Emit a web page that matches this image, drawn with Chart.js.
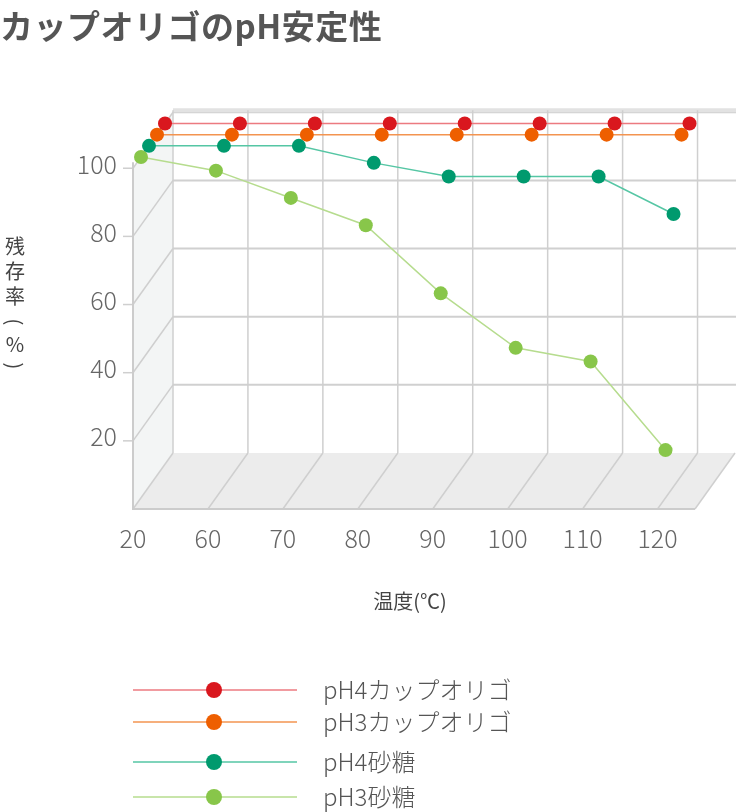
<!DOCTYPE html>
<html><head><meta charset="utf-8">
<script src="https://cdn.jsdelivr.net/npm/chart.js@4/dist/chart.umd.min.js"></script>
<style>
html,body{margin:0;padding:0;background:#fff;width:736px;height:812px;overflow:hidden;font-family:"Noto Sans CJK JP",sans-serif}
#t{position:absolute;left:0;top:1px;font-size:33px;font-weight:bold;color:#555;letter-spacing:0.5px}
#w{position:absolute;left:0;top:0;width:736px;height:812px}
</style></head><body>
<div id="w"><canvas id="c" width="736" height="812"></canvas></div>
<div id="t">カップオリゴのpH安定性</div>
<script>
const categories = ["20","60","70","80","90","100","110","120"];
const yTicks = [20,40,60,80,100];
const seriesNames = ["pH4カップオリゴ","pH3カップオリゴ","pH4砂糖","pH3砂糖"];
const pH4Oligo = [100,100,100,100,100,100,100,100];
const pH3Oligo = [100,100,100,100,100,100,100,100];
const pH4Sugar = [100,100,100,95,91,91,91,80];
const pH3Sugar = [100,96,88,80,60,44,40,14];

const dotColors = ["#d9171e","#ee5f00","#009a6e","#88c64a"];
const lineColors = ["#ec7a80","#f39450","#55c6a4","#b6dc8e"];
const depths = [4,3,2,1];
const DX = 40, DY = -56, NDEP = 5;
const F = '"Noto Sans CJK JP", sans-serif';

function ds(i, vals){
  return {label:seriesNames[i], data:vals.map((v,k)=>({x:k,y:v})), borderColor:lineColors[i],
    backgroundColor:dotColors[i], pointBackgroundColor:dotColors[i], pointBorderWidth:0,
    pointRadius:7, borderWidth:1.5, clip:false, depth:depths[i]};
}

const depthPlugin = {id:'depth',
  afterDatasetsUpdate(chart){
    chart.data.datasets.forEach((d,i)=>{
      const m = chart.getDatasetMeta(i);
      m.data.forEach(p=>{p.x += d.depth*DX/NDEP; p.y += d.depth*DY/NDEP;});
    });
  }};

const framePlugin = {id:'frame',
  beforeDatasetsDraw(chart){
    const c = chart.ctx, xs = chart.scales.x, ys = chart.scales.y;
    const x0 = xs.getPixelForValue(0), x1 = xs.getPixelForValue(7.5);
    const yb = ys.getPixelForValue(0), yt = ys.getPixelForValue(100);
    c.save();
    c.fillStyle = "#f3f5f5";
    c.beginPath(); c.moveTo(x0,yt); c.lineTo(x0+DX,yt+DY); c.lineTo(x0+DX,yb+DY); c.lineTo(x0,yb); c.closePath(); c.fill();
    c.fillStyle = "#ececec";
    c.beginPath(); c.moveTo(x0,yb); c.lineTo(x1,yb); c.lineTo(x1+DX,yb+DY); c.lineTo(x0+DX,yb+DY); c.closePath(); c.fill();
    c.strokeStyle = "#d0d0d0"; c.lineWidth = 2;
    yTicks.forEach(t=>{
      const y = ys.getPixelForValue(t)+DY;
      c.beginPath(); c.moveTo(x0+DX,y); c.lineTo(736,y); c.stroke();
    });
    c.strokeStyle = "#e2e2e2"; c.lineWidth = 4;
    c.beginPath(); c.moveTo(x0+DX,yt+DY-2); c.lineTo(736,yt+DY-2); c.stroke();
    c.lineWidth = 1.5; c.strokeStyle = "#cfcfcf";
    for(let k=0;k<categories.length;k++){
      const x = xs.getPixelForValue(k);
      c.beginPath(); c.moveTo(x+DX,yt+DY-2); c.lineTo(x+DX,yb+DY); c.stroke();
      c.beginPath(); c.moveTo(x,yb); c.lineTo(x+DX,yb+DY); c.stroke();
    }
    c.beginPath(); c.moveTo(x1,yb); c.lineTo(x1+DX,yb+DY); c.stroke();
    yTicks.forEach(t=>{
      const y = ys.getPixelForValue(t);
      c.beginPath(); c.moveTo(x0,y); c.lineTo(x0+DX,y+DY); c.stroke();
      c.beginPath(); c.moveTo(x0-10,y); c.lineTo(x0,y); c.stroke();
    });
    c.strokeStyle = "#cccccc"; c.lineWidth = 2;
    c.beginPath(); c.moveTo(x0,yt-6); c.lineTo(x0,yb); c.lineTo(x1,yb); c.stroke();
    c.fillStyle = "#666"; c.font = "300 25px "+F;
    c.textAlign = "right"; c.textBaseline = "middle";
    yTicks.forEach(t=>c.fillText(String(t), x0-16, ys.getPixelForValue(t)-4));
    c.textAlign = "center";
    categories.forEach((s,k)=>c.fillText(s, xs.getPixelForValue(k), 538));
    c.fillStyle = "#444"; c.font = "20px "+F;
    c.fillText("温度(℃)", 410, 601);
    ["残","存","率"].forEach((ch,k)=>c.fillText(ch, 15, 246+k*25));
    ["(","%",")"].forEach((ch,k)=>{
      c.save(); c.translate(15, 322+k*22);
      if(ch!=="%") c.rotate(Math.PI/2);
      c.fillText(ch,0,0); c.restore();
    });
    const ly = [690,722,762,797];
    ly.forEach((y,i)=>{
      c.strokeStyle = lineColors[i]; c.lineWidth = 1.5;
      c.beginPath(); c.moveTo(133,y); c.lineTo(297,y); c.stroke();
      c.fillStyle = dotColors[i];
      c.beginPath(); c.arc(214,y,8,0,Math.PI*2); c.fill();
      c.fillStyle = "#555"; c.font = "300 24px "+F; c.textAlign = "left";
      c.fillText(seriesNames[i], 323, y);
    });
    c.restore();
  }};

new Chart(document.getElementById('c'), {
  type:'line',
  data:{datasets:[ds(0,pH4Oligo),ds(1,pH3Oligo),ds(2,pH4Sugar),ds(3,pH3Sugar)]},
  options:{responsive:false, animation:false, events:[],
    layout:{padding:{left:133,right:41,top:66,bottom:303}},
    plugins:{legend:{display:false},tooltip:{enabled:false}},
    scales:{
      x:{type:'linear',min:0,max:7.5,display:false},
      y:{type:'linear',min:0,max:130,display:false}
    }},
  plugins:[depthPlugin, framePlugin]
});
</script></body></html>
